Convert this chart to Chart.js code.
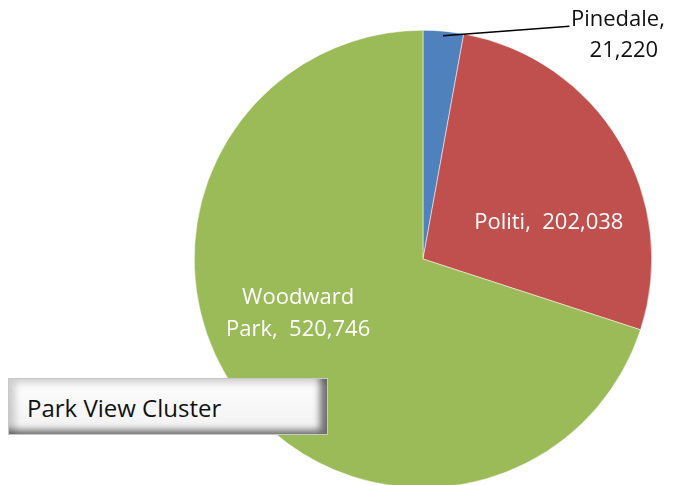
<!DOCTYPE html>
<html>
<head>
<meta charset="utf-8">
<script src="https://cdn.jsdelivr.net/npm/chart.js@4.4.0/dist/chart.umd.min.js"></script>
<style>
  html, body { margin: 0; padding: 0; background: #fff; overflow: hidden; }
  #wrap { position: relative; width: 677px; height: 485px; overflow: hidden; }
  #holder { position: absolute; left: 0; top: 0; width: 677px; height: 500px; }
  #title {
    position: absolute; left: 8px; top: 378px; width: 320px; height: 57px;
    box-sizing: border-box; border: 1px solid #c8c8c8;
    background: linear-gradient(to bottom, #fdfdfd, #f2f2f2);
    box-shadow: inset -9px -6px 7px -2px rgba(0,0,0,0.55), inset 8px 6px 7px -2px rgba(0,0,0,0.18);
    font-family: "Open Sans", "Noto Sans", sans-serif; font-size: 24px; color: #111;
    line-height: 57px; padding-left: 18px;
  }
</style>
</head>
<body>
<div id="wrap">
  <div id="holder"><canvas id="pie"></canvas></div>
  <div id="title">Park View Cluster</div>
</div>
<script>
var parks = ['Pinedale', 'Politi', 'Woodward Park'];
var visits = [21220, 202038, 520746];
var sliceColors = ['#4F81BD', '#C0504D', '#9BBB59'];

function fmt(n) { return n.toLocaleString('en-US'); }

var labelPlugin = {
  id: 'sliceLabels',
  afterDatasetsDraw: function(chart) {
    var ctx = chart.ctx;
    var arcs = chart.getDatasetMeta(0).data;
    var cx = arcs[0].x, cy = arcs[0].y, r = arcs[0].outerRadius;
    ctx.save();
    ctx.font = '22px "Open Sans", "Noto Sans", sans-serif';
    ctx.textAlign = 'center';
    ctx.textBaseline = 'middle';

    // Politi inside
    ctx.fillStyle = '#ffffff';
    ctx.fillText(parks[1] + ',  ' + fmt(visits[1]), cx + 0.55 * r, cy - 0.16 * r);

    // Woodward Park inside, two lines
    var wx = cx - 0.546 * r, wy = cy + 0.24 * r;
    ctx.fillText('Woodward', wx, wy - 16);
    ctx.fillText('Park,  ' + fmt(visits[2]), wx, wy + 16);

    // Pinedale outside with leader line
    var a = arcs[0];
    var mid = (a.startAngle + a.endAngle) / 2;
    var ex = cx + Math.cos(mid) * r * 0.98, ey = cy + Math.sin(mid) * r * 0.98;
    ctx.strokeStyle = '#000';
    ctx.lineWidth = 1.5;
    ctx.beginPath();
    ctx.moveTo(ex, ey);
    ctx.lineTo(cx + 0.64 * r, cy - 1.017 * r);
    ctx.stroke();
    ctx.fillStyle = '#111';
    ctx.fillText(parks[0] + ',', cx + 0.852 * r, cy - 1.048 * r);
    ctx.fillText(fmt(visits[0]), cx + 0.878 * r, cy - 0.91 * r);
    ctx.restore();
  }
};

new Chart(document.getElementById('pie'), {
  type: 'pie',
  data: {
    labels: parks,
    datasets: [{
      data: visits,
      backgroundColor: sliceColors,
      borderColor: '#ffffff',
      borderWidth: 0.5
    }]
  },
  options: {
    responsive: true,
    maintainAspectRatio: false,
    animation: false,
    layout: { padding: { left: 194, right: 25, top: 30, bottom: 12 } },
    plugins: {
      legend: { display: false },
      tooltip: { enabled: false }
    }
  },
  plugins: [labelPlugin]
});
</script>
</body>
</html>
